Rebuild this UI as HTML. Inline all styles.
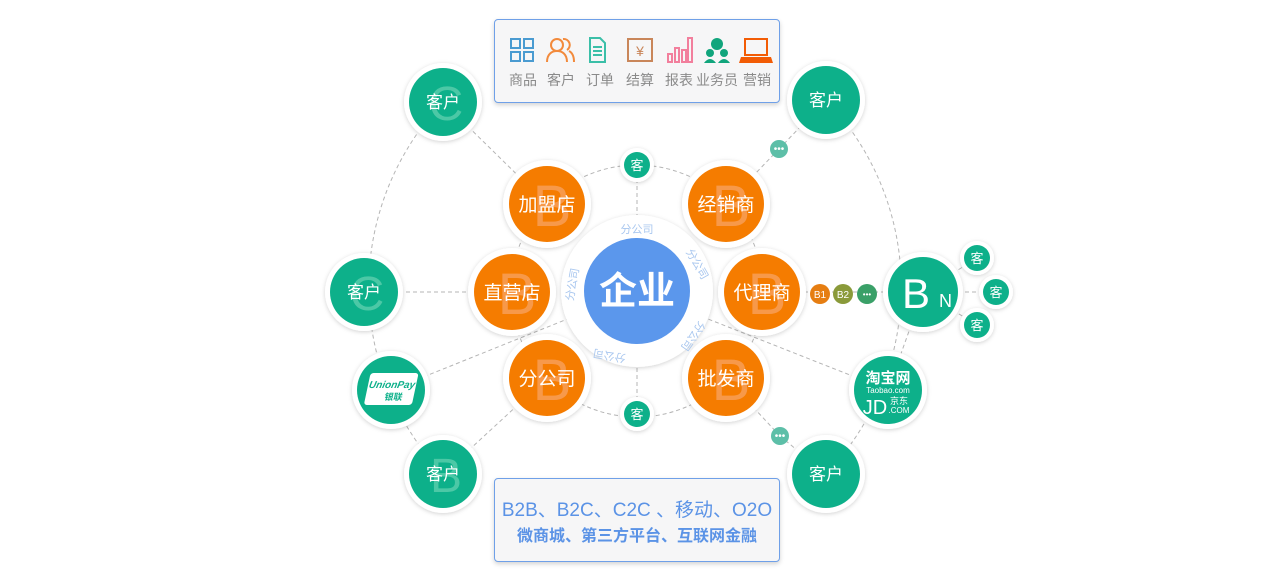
<!DOCTYPE html>
<html><head><meta charset="utf-8"><style>
html,body{margin:0;padding:0;background:#fff;}
body{width:1280px;height:582px;position:relative;overflow:hidden;font-family:"Liberation Sans","Noto Sans CJK SC",sans-serif;}
.box{position:absolute;background:#f6f6f7;border:1.5px solid #6fa0e8;border-radius:4px;box-shadow:0 2px 5px rgba(0,0,0,.18);}
</style></head><body>
<svg width="1280" height="582" style="position:absolute;left:0;top:0" font-family="Liberation Sans, Noto Sans CJK SC, sans-serif">
<defs>
<filter id="sh" x="-30%" y="-30%" width="160%" height="160%"><feDropShadow dx="0" dy="1" stdDeviation="2" flood-color="#000" flood-opacity="0.18"/></filter>
</defs>
<g fill="none" stroke="#b5b5b5" stroke-width="1" stroke-dasharray="4,3">
<path d="M443,102 A270,270 0 0 0 443,474"/>
<path d="M826,100 A270,270 0 0 1 826,474"/>
<circle cx="637" cy="291" r="126"/>
<line x1="443" y1="102" x2="547" y2="204"/>
<line x1="364" y1="292" x2="512" y2="292"/>
<line x1="391" y1="390" x2="637" y2="291"/>
<line x1="443" y1="474" x2="547" y2="378"/>
<line x1="779" y1="149" x2="826" y2="100"/>
<line x1="779" y1="149" x2="726" y2="204"/>
<line x1="780" y1="436" x2="726" y2="378"/>
<line x1="780" y1="436" x2="826" y2="474"/>
<line x1="888" y1="390" x2="637" y2="291"/>
<line x1="637" y1="165" x2="637" y2="414"/>
<line x1="762" y1="292" x2="923" y2="292"/>
<line x1="923" y1="292" x2="977" y2="258"/>
<line x1="923" y1="292" x2="996" y2="292"/>
<line x1="923" y1="292" x2="977" y2="325"/>
<line x1="923" y1="292" x2="888" y2="390"/>
</g>
<g filter="url(#sh)" fill="#fff">
<circle cx="547" cy="204" r="44"/><circle cx="726" cy="204" r="44"/><circle cx="512" cy="292" r="44"/><circle cx="762" cy="292" r="44"/><circle cx="547" cy="378" r="44"/><circle cx="726" cy="378" r="44"/>
<circle cx="637" cy="291" r="76"/>
</g>
<g fill="#f57c00">
<circle cx="547" cy="204" r="38"/><circle cx="726" cy="204" r="38"/><circle cx="512" cy="292" r="38"/><circle cx="762" cy="292" r="38"/><circle cx="547" cy="378" r="38"/><circle cx="726" cy="378" r="38"/>
</g>
<g fill="#f9a66a" font-size="58" text-anchor="middle" opacity="0.7">
<text x="552" y="226">B</text><text x="731" y="226">B</text><text x="517" y="314">B</text><text x="767" y="314">B</text><text x="552" y="400">B</text><text x="731" y="400">B</text>
</g>
<g fill="#fff" font-size="19" text-anchor="middle">
<text x="547" y="211">加盟店</text><text x="726" y="211">经销商</text><text x="512" y="299">直营店</text><text x="762" y="299">代理商</text><text x="547" y="385">分公司</text><text x="726" y="385">批发商</text>
</g>
<circle cx="637" cy="291" r="74" fill="#fff"/>
<circle cx="637" cy="291" r="53" fill="#5b97ec"/>
<text x="637" y="304" fill="#fff" font-size="38" font-weight="bold" text-anchor="middle">企业</text>
<g fill="#a9c7ef" font-size="11" text-anchor="middle">
<text x="637" y="233">分公司</text>
<text transform="translate(694,266) rotate(60)">分公司</text>
<text transform="translate(690,334) rotate(125)">分公司</text>
<text transform="translate(610,352) rotate(190)">分公司</text>
<text transform="translate(576,285) rotate(-80)">分公司</text>
</g>
<g filter="url(#sh)" fill="#fff">
<circle cx="443" cy="102" r="39"/><circle cx="826" cy="100" r="39"/><circle cx="364" cy="292" r="39"/><circle cx="391" cy="390" r="39"/><circle cx="443" cy="474" r="39"/><circle cx="826" cy="474" r="39"/><circle cx="923" cy="292" r="40"/><circle cx="888" cy="390" r="39"/>
<circle cx="637" cy="165" r="17"/><circle cx="637" cy="414" r="17"/><circle cx="977" cy="258" r="17"/><circle cx="996" cy="292" r="17"/><circle cx="977" cy="325" r="17"/>
</g>
<g fill="#0db08a">
<circle cx="443" cy="102" r="34"/><circle cx="826" cy="100" r="34"/><circle cx="364" cy="292" r="34"/><circle cx="391" cy="390" r="34"/><circle cx="443" cy="474" r="34"/><circle cx="826" cy="474" r="34"/><circle cx="923" cy="292" r="35"/><circle cx="888" cy="390" r="34"/>
<circle cx="637" cy="165" r="13"/><circle cx="637" cy="414" r="13"/><circle cx="977" cy="258" r="13"/><circle cx="996" cy="292" r="13"/><circle cx="977" cy="325" r="13"/>
</g>
<g fill="#4cc8a6" font-size="48" text-anchor="middle">
<text x="446" y="120">C</text><text x="367" y="310">C</text><text x="446" y="492">B</text>
</g>
<g fill="#fff" text-anchor="middle">
<text x="443" y="108" font-size="17">客户</text><text x="826" y="106" font-size="17">客户</text><text x="364" y="298" font-size="17">客户</text><text x="443" y="480" font-size="17">客户</text><text x="826" y="480" font-size="17">客户</text>
<text x="637" y="170" font-size="13">客</text><text x="637" y="419" font-size="13">客</text><text x="977" y="263" font-size="13">客</text><text x="996" y="297" font-size="13">客</text><text x="977" y="330" font-size="13">客</text>
<text x="916" y="308" font-size="42">B</text><text x="939" y="307" font-size="18" text-anchor="start">N</text>
<text x="888" y="383" font-size="15" font-weight="bold">淘宝网</text>
<text x="888" y="393" font-size="8">Taobao.com</text>
<text x="875" y="414" font-size="20">JD</text>
<text x="899" y="404" font-size="9">京东</text>
<text x="899" y="413" font-size="8">.COM</text>
</g>
<g transform="translate(391,390) skewX(-12)">
<rect x="-24" y="-17" width="48" height="32" rx="3" fill="#fff"/>
<text x="0" y="-2" fill="#0db08a" font-size="10" font-weight="bold" font-style="italic" text-anchor="middle">UnionPay</text>
<text x="4" y="10" fill="#0db08a" font-size="9" font-weight="bold" text-anchor="middle">银联</text>
</g>
<circle cx="779" cy="149" r="9" fill="#5dbfa8"/><text x="779" y="152" fill="#fff" font-size="10" text-anchor="middle">•••</text>
<circle cx="780" cy="436" r="9" fill="#5dbfa8"/><text x="780" y="439" fill="#fff" font-size="10" text-anchor="middle">•••</text>
<circle cx="820" cy="294" r="10" fill="#e67e12"/><text x="820" y="298" fill="#fff" font-size="10" text-anchor="middle">B1</text>
<circle cx="843" cy="294" r="10" fill="#8a9a3a"/><text x="843" y="298" fill="#fff" font-size="10" text-anchor="middle">B2</text>
<circle cx="867" cy="294" r="10" fill="#3aa068"/><text x="867" y="297" fill="#fff" font-size="8" text-anchor="middle">•••</text>
</svg>

<div class="box" style="left:494px;top:19px;width:284px;height:82px;">
<svg width="284" height="82" font-family="Liberation Sans, Noto Sans CJK SC, sans-serif">
<g fill="none" stroke-width="2">
<g stroke="#4a9bd1"><rect x="16" y="19" width="9" height="9"/><rect x="29" y="19" width="9" height="9"/><rect x="16" y="32" width="9" height="9"/><rect x="29" y="32" width="9" height="9"/></g>
<g stroke="#f28a3c"><circle cx="62" cy="25" r="6"/><path d="M52 42c0-8 5-11 10-11s10 3 10 11"/><path d="M68 19a6 6 0 0 1 4 11M74 31c4 2 5 6 5 11"/></g>
<g stroke="#3bbfa8"><path d="M95 18h10l5 5v19h-15z"/><path d="M98 27h9M98 31h9M98 35h9"/></g>
<g stroke="#c9865a"><rect x="133" y="19" width="24" height="22"/><text x="145" y="36" fill="#c9865a" stroke="none" font-size="14" text-anchor="middle">¥</text></g>
<g stroke="#f27f9d"><rect x="173" y="34" width="4" height="8"/><rect x="180" y="28" width="4" height="14"/><rect x="187" y="30" width="4" height="12"/><rect x="193" y="18" width="4" height="24"/></g>
</g>
<g fill="#11a57c"><circle cx="222" cy="24" r="6"/><circle cx="215" cy="33" r="4"/><circle cx="229" cy="33" r="4"/><path d="M209 43q6-8 12 0zM223 43q6-8 12 0z"/></g>
<g fill="#f25c05"><rect x="250" y="19" width="22" height="16" fill="none" stroke="#f25c05" stroke-width="2"/><path d="M246 37h30l2 6h-34z"/></g>
<g fill="#8a8a8a" font-size="14" text-anchor="middle">
<text x="28" y="65">商品</text><text x="66" y="65">客户</text><text x="105" y="65">订单</text><text x="145" y="65">结算</text><text x="184" y="65">报表</text><text x="222" y="65">业务员</text><text x="262" y="65">营销</text>
</g>
</svg>
</div>

<div class="box" style="left:494px;top:478px;width:284px;height:82px;">
<div style="position:absolute;left:0;right:0;top:16px;text-align:center;color:#5b93e6;font-size:19px;">B2B、B2C、C2C 、移动、O2O</div>
<div style="position:absolute;left:0;right:0;top:43px;text-align:center;color:#5b93e6;font-size:16px;font-weight:bold;">微商城、第三方平台、互联网金融</div>
</div>
</body></html>
